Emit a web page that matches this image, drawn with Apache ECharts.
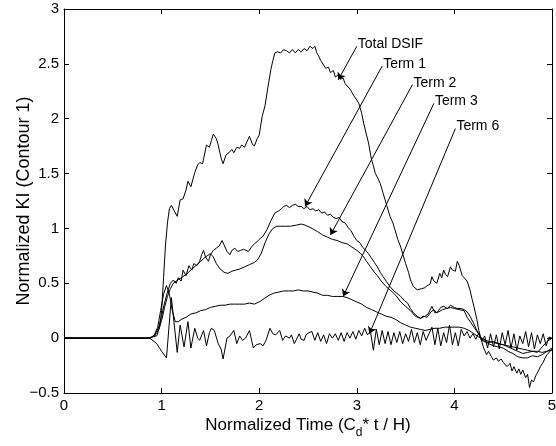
<!DOCTYPE html>
<html>
<head>
<meta charset="utf-8">
<script src="https://cdn.jsdelivr.net/npm/echarts@6/dist/echarts.min.js"></script>
<style>html,body{margin:0;padding:0;background:#fff}#c{width:556px;height:446px}</style>
</head>
<body>
<div id="c"></div>
<script>
const xTicks = [0, 1, 2, 3, 4, 5];
const yTicks = [-0.5, 0, 0.5, 1, 1.5, 2, 2.5, 3];

const tTotal = [0,0.85,0.9,0.95,0.98,1.0,1.02,1.04,1.06,1.08,1.1,1.13,1.16,1.19,1.22,1.25,1.27,1.3,1.34,1.37,1.39,1.42,1.46,1.49,1.51,1.53,1.56,1.58,1.61,1.63,1.66,1.69,1.72,1.74,1.77,1.8,1.82,1.85,1.87,1.9,1.93,1.95,1.98,2.0,2.03,2.06,2.09,2.12,2.14,2.16,2.19,2.22,2.25,2.28,2.31,2.34,2.37,2.4,2.43,2.46,2.49,2.52,2.55,2.57,2.59,2.61,2.63,2.66,2.68,2.71,2.73,2.76,2.78,2.81,2.83,2.86,2.88,2.9,2.93,2.95,2.97,3.0,3.02,3.05,3.07,3.1,3.12,3.15,3.17,3.19,3.22,3.24,3.27,3.29,3.32,3.34,3.37,3.39,3.42,3.45,3.48,3.5,3.53,3.55,3.58,3.62,3.66,3.7,3.72,3.75,3.77,3.79,3.82,3.85,3.87,3.89,3.91,3.93,3.96,3.98,4.01,4.03,4.05,4.08,4.1,4.13,4.16,4.18,4.2,4.23,4.25,4.28,4.3,4.33,4.35,4.38,4.4,4.43,4.45,4.48,4.5,4.52,4.54,4.57,4.59,4.61,4.64,4.66,4.68,4.7,4.73,4.75,4.77,4.79,4.81,4.84,4.86,4.88,4.91,4.93,4.95,4.97,5.0];
const vTotal = [0,0,0.01,0.02,0.1,0.25,0.55,0.85,1.05,1.18,1.21,1.16,1.11,1.26,1.27,1.35,1.43,1.38,1.51,1.58,1.6,1.59,1.76,1.74,1.8,1.86,1.82,1.76,1.64,1.59,1.67,1.69,1.72,1.69,1.74,1.73,1.76,1.74,1.78,1.84,1.77,1.75,1.82,1.85,2.02,2.12,2.29,2.45,2.53,2.6,2.61,2.6,2.63,2.62,2.6,2.63,2.6,2.63,2.61,2.64,2.62,2.66,2.64,2.66,2.6,2.57,2.53,2.49,2.46,2.47,2.42,2.44,2.38,2.4,2.36,2.37,2.32,2.33,2.27,2.26,2.21,2.17,2.14,2.05,1.96,1.85,1.78,1.63,1.57,1.5,1.45,1.41,1.32,1.26,1.17,1.11,1.05,0.99,0.9,0.83,0.74,0.68,0.6,0.53,0.47,0.44,0.45,0.46,0.48,0.49,0.56,0.52,0.5,0.59,0.55,0.62,0.58,0.56,0.65,0.62,0.61,0.7,0.66,0.57,0.56,0.52,0.44,0.36,0.29,0.17,0.07,-0.03,-0.09,-0.15,-0.12,-0.17,-0.2,-0.18,-0.21,-0.19,-0.22,-0.21,-0.26,-0.23,-0.3,-0.26,-0.32,-0.28,-0.33,-0.29,-0.36,-0.33,-0.45,-0.38,-0.4,-0.33,-0.3,-0.26,-0.22,-0.18,-0.15,-0.14,-0.1];

const tTerm1 = [0,0.88,0.93,0.97,1.0,1.03,1.06,1.09,1.12,1.15,1.17,1.2,1.22,1.25,1.28,1.31,1.33,1.36,1.39,1.41,1.43,1.45,1.48,1.5,1.53,1.56,1.59,1.62,1.64,1.67,1.7,1.72,1.75,1.78,1.81,1.84,1.86,1.89,1.92,1.95,1.98,2.0,2.04,2.08,2.12,2.16,2.2,2.23,2.25,2.28,2.31,2.34,2.37,2.4,2.43,2.46,2.49,2.52,2.55,2.58,2.61,2.64,2.67,2.7,2.73,2.76,2.79,2.82,2.85,2.88,2.91,2.94,2.97,3.0,3.03,3.06,3.09,3.12,3.15,3.18,3.21,3.24,3.27,3.3,3.34,3.38,3.41,3.45,3.49,3.52,3.55,3.58,3.62,3.65,3.68,3.72,3.76,3.79,3.82,3.86,3.89,3.93,3.96,4.0,4.03,4.07,4.1,4.13,4.16,4.2,4.23,4.27,4.3,4.35,4.4,4.45,4.5,4.55,4.6,4.65,4.7,4.75,4.8,4.85,4.9,4.95,5.0];
const vTerm1 = [0,0,0.03,0.1,0.2,0.32,0.42,0.5,0.53,0.5,0.55,0.52,0.62,0.57,0.66,0.62,0.68,0.66,0.7,0.76,0.8,0.74,0.7,0.76,0.8,0.82,0.84,0.89,0.85,0.79,0.76,0.8,0.82,0.79,0.8,0.81,0.82,0.79,0.83,0.86,0.88,0.9,0.93,0.99,1.07,1.14,1.16,1.18,1.2,1.21,1.19,1.21,1.22,1.2,1.2,1.18,1.2,1.17,1.18,1.16,1.17,1.14,1.15,1.12,1.13,1.1,1.09,1.1,1.06,1.05,1.01,0.98,0.93,0.89,0.87,0.83,0.8,0.77,0.73,0.69,0.65,0.6,0.56,0.52,0.47,0.43,0.41,0.38,0.34,0.32,0.27,0.23,0.2,0.18,0.2,0.19,0.24,0.26,0.23,0.28,0.29,0.27,0.3,0.28,0.27,0.27,0.26,0.24,0.2,0.13,0.07,0.0,-0.03,-0.04,-0.03,-0.05,-0.06,-0.08,-0.1,-0.12,-0.14,-0.13,-0.12,-0.13,-0.08,-0.03,0.0];

const tTerm2 = [0,0.88,0.93,0.97,1.0,1.03,1.06,1.09,1.12,1.15,1.2,1.25,1.3,1.35,1.4,1.45,1.5,1.53,1.56,1.6,1.64,1.68,1.72,1.76,1.8,1.85,1.9,1.95,1.98,2.02,2.06,2.1,2.14,2.18,2.22,2.27,2.32,2.38,2.43,2.47,2.52,2.56,2.6,2.65,2.7,2.75,2.8,2.85,2.9,2.95,3.0,3.04,3.07,3.1,3.14,3.18,3.21,3.25,3.3,3.34,3.4,3.45,3.5,3.55,3.6,3.65,3.7,3.73,3.77,3.8,3.84,3.88,3.92,3.96,4.0,4.05,4.1,4.13,4.17,4.2,4.24,4.27,4.3,4.35,4.4,4.45,4.5,4.55,4.6,4.65,4.7,4.75,4.8,4.85,4.9,4.95,5.0];
const vTerm2 = [0,0,0.02,0.08,0.16,0.28,0.38,0.45,0.5,0.52,0.55,0.58,0.62,0.66,0.7,0.74,0.77,0.74,0.68,0.63,0.6,0.59,0.61,0.62,0.63,0.65,0.67,0.69,0.71,0.77,0.87,0.95,1.0,1.02,1.02,1.02,1.02,1.03,1.04,1.03,1.01,0.99,0.97,0.94,0.92,0.9,0.89,0.87,0.86,0.83,0.8,0.77,0.74,0.7,0.65,0.6,0.57,0.52,0.47,0.44,0.39,0.33,0.29,0.25,0.2,0.18,0.2,0.22,0.29,0.23,0.24,0.26,0.27,0.28,0.27,0.26,0.25,0.19,0.14,0.1,0.05,0.01,-0.02,-0.05,-0.07,-0.08,-0.09,-0.12,-0.14,-0.17,-0.18,-0.18,-0.16,-0.17,-0.15,-0.12,-0.09];

const tTerm3 = [0,0.88,0.92,0.96,0.99,1.02,1.05,1.08,1.11,1.14,1.17,1.2,1.25,1.3,1.35,1.4,1.45,1.5,1.55,1.6,1.65,1.7,1.75,1.8,1.85,1.9,1.95,2.0,2.05,2.1,2.15,2.2,2.25,2.3,2.35,2.4,2.45,2.5,2.55,2.6,2.65,2.7,2.75,2.8,2.85,2.9,2.95,3.0,3.05,3.1,3.15,3.2,3.25,3.3,3.35,3.4,3.45,3.5,3.55,3.6,3.65,3.7,3.75,3.8,3.85,3.9,3.95,4.0,4.05,4.1,4.15,4.2,4.25,4.3,4.35,4.4,4.45,4.5,4.55,4.6,4.65,4.7,4.75,4.8,4.85,4.9,4.95,5.0];
const vTerm3 = [0,0,0.02,0.1,0.25,0.4,0.48,0.4,0.25,0.15,0.15,0.17,0.19,0.22,0.23,0.25,0.26,0.28,0.29,0.3,0.3,0.31,0.31,0.31,0.31,0.32,0.31,0.33,0.36,0.39,0.41,0.42,0.43,0.43,0.43,0.44,0.43,0.43,0.42,0.41,0.39,0.39,0.38,0.38,0.38,0.37,0.35,0.33,0.31,0.28,0.26,0.24,0.22,0.2,0.19,0.17,0.14,0.12,0.1,0.09,0.08,0.07,0.08,0.09,0.09,0.1,0.1,0.1,0.1,0.09,0.07,0.04,0.01,-0.01,-0.03,-0.04,-0.05,-0.06,-0.07,-0.08,-0.09,-0.1,-0.11,-0.12,-0.12,-0.13,-0.12,-0.11];

const tTerm6 = [0,0.88,0.95,1.0,1.05,1.1,1.16,1.19,1.23,1.27,1.3,1.34,1.37,1.39,1.43,1.46,1.49,1.51,1.54,1.58,1.61,1.63,1.67,1.7,1.74,1.77,1.8,1.83,1.86,1.9,1.94,1.97,2.01,2.04,2.07,2.11,2.14,2.17,2.21,2.24,2.27,2.31,2.33,2.36,2.41,2.43,2.46,2.48,2.51,2.54,2.57,2.6,2.63,2.66,2.69,2.72,2.75,2.78,2.81,2.84,2.87,2.9,2.93,2.96,2.99,3.02,3.05,3.08,3.11,3.14,3.17,3.2,3.23,3.26,3.29,3.32,3.35,3.38,3.41,3.44,3.47,3.5,3.53,3.56,3.59,3.62,3.65,3.68,3.71,3.74,3.77,3.8,3.83,3.86,3.89,3.92,3.95,3.98,4.01,4.04,4.07,4.1,4.13,4.16,4.19,4.22,4.25,4.28,4.31,4.34,4.37,4.4,4.43,4.46,4.49,4.52,4.55,4.58,4.61,4.64,4.67,4.7,4.73,4.76,4.79,4.82,4.85,4.88,4.91,4.94,4.97,5.0];
const vTerm6 = [0,0,-0.05,-0.12,-0.18,0.37,-0.13,0.12,-0.08,0.15,-0.09,0.09,0.0,-0.02,0.07,-0.07,0.05,0.09,0.07,-0.05,-0.1,-0.19,0.0,0.02,0.07,-0.05,0.02,-0.02,0.0,0.07,-0.09,-0.06,-0.05,-0.07,-0.02,0.09,0.04,0.03,0.07,-0.02,0.02,0.0,0.03,-0.05,0.04,-0.01,-0.02,0.03,0.05,0.06,-0.02,0.05,-0.03,0.03,-0.05,0.04,0.0,0.04,-0.02,0.05,-0.03,0.05,0.0,0.06,-0.01,0.07,0.02,0.09,0.03,0.06,-0.11,0.08,-0.06,0.07,-0.05,0.06,-0.06,0.05,-0.04,0.06,-0.05,0.04,-0.03,0.08,-0.04,0.05,-0.06,0.06,-0.02,0.04,0.1,-0.06,0.09,-0.07,0.05,-0.04,0.12,-0.06,0.05,-0.07,0.08,0.02,0.06,0.0,0.04,-0.01,0.05,-0.03,0.02,-0.09,0.04,-0.08,0.03,-0.1,0.05,-0.06,0.07,-0.09,0.04,-0.11,0.02,-0.05,0.06,-0.08,0.05,-0.1,0.03,-0.05,0.04,-0.07,0.01,0.0];

// annotations: label, text anchor (start of arrow), arrow tip
const annLabels = ['Total DSIF', 'Term 1', 'Term 2', 'Term 3', 'Term 6'];
const annStart = [[3.00, 2.66], [3.26, 2.48], [3.57, 2.31], [3.79, 2.14], [4.01, 1.91]];
const annTip = [[2.81, 2.355], [2.47, 1.20], [2.73, 0.94], [2.86, 0.38], [3.13, 0.04]];

const FONT = '"Liberation Sans", Arial, Helvetica, sans-serif';
const pairs = (t, v) => t.map((x, i) => [x, v[i]]);
const fmtY = v => (v < 0 ? '\u2212' + Math.abs(v) : String(v));

const lineSeries = (name, t, v) => ({
  name, type: 'line', data: pairs(t, v), showSymbol: false, symbol: 'none',
  lineStyle: { color: '#000', width: 1 }, animation: false, silent: true,
  xAxisIndex: 0, yAxisIndex: 0
});

const axisCommon = {
  type: 'value',
  axisLine: { show: true, onZero: false, lineStyle: { color: '#000', width: 1 } },
  axisTick: { show: true, inside: true, length: 5, lineStyle: { color: '#000', width: 1 } },
  splitLine: { show: false }
};

const totalSeries = lineSeries('Total DSIF', tTotal, vTotal);
totalSeries.markLine = {
  silent: true, animation: false,
  symbol: ['none', 'arrow'], symbolSize: 7,
  lineStyle: { color: '#000', width: 1, type: 'solid' },
  label: { show: false },
  emphasis: { disabled: true },
  data: annStart.map((s, i) => [{ coord: s }, { coord: annTip[i] }])
};
totalSeries.markPoint = {
  silent: true, animation: false, symbol: 'circle', symbolSize: 0,
  itemStyle: { color: 'rgba(0,0,0,0)' },
  label: { show: true, position: 'right', distance: 1, color: '#000', fontSize: 14, fontFamily: FONT, offset: [0, -2], formatter: p => p.name },
  data: annStart.map((s, i) => ({ name: annLabels[i], coord: s }))
};

const chart = echarts.init(document.getElementById('c'), null, { renderer: 'canvas' });
chart.setOption({
  backgroundColor: '#fff',
  animation: false,
  grid: { left: 64, right: 4, top: 9, bottom: 53, containLabel: false, outerBoundsMode: 'none' },
  xAxis: [
    Object.assign({}, axisCommon, {
      min: xTicks[0], max: xTicks[xTicks.length - 1], interval: 1, position: 'bottom',
      axisLabel: { color: '#000', fontSize: 15, fontFamily: FONT, margin: 5 },
      name: '{a|Normalized Time (C}{s|d}{a|* t / H)}',
      nameLocation: 'middle', nameGap: 24, nameMoveOverlap: false,
      nameTextStyle: {
        color: '#000', fontSize: 17, fontFamily: FONT,
        rich: {
          a: { fontSize: 17, fontFamily: FONT, color: '#000', lineHeight: 22, verticalAlign: 'top' },
          s: { fontSize: 12, fontFamily: FONT, color: '#000', lineHeight: 22, verticalAlign: 'bottom', padding: [10, 0, 0, 0] }
        }
      }
    }),
    Object.assign({}, axisCommon, {
      min: xTicks[0], max: xTicks[xTicks.length - 1], interval: 1, position: 'top',
      axisLabel: { show: false }
    })
  ],
  yAxis: [
    Object.assign({}, axisCommon, {
      min: yTicks[0], max: yTicks[yTicks.length - 1], interval: 0.5, position: 'left',
      axisLabel: { color: '#000', fontSize: 15, fontFamily: FONT, margin: 5, formatter: fmtY },
      name: 'Normalized KI (Contour 1)', nameLocation: 'middle', nameGap: 31, nameRotate: 90, nameMoveOverlap: false,
      nameTextStyle: { color: '#000', fontSize: 18, fontFamily: FONT }
    }),
    Object.assign({}, axisCommon, {
      min: yTicks[0], max: yTicks[yTicks.length - 1], interval: 0.5, position: 'right',
      axisLabel: { show: false }
    })
  ],
  series: [
    totalSeries,
    lineSeries('Term 1', tTerm1, vTerm1),
    lineSeries('Term 2', tTerm2, vTerm2),
    lineSeries('Term 3', tTerm3, vTerm3),
    lineSeries('Term 6', tTerm6, vTerm6)
  ]
});
</script>
</body>
</html>
